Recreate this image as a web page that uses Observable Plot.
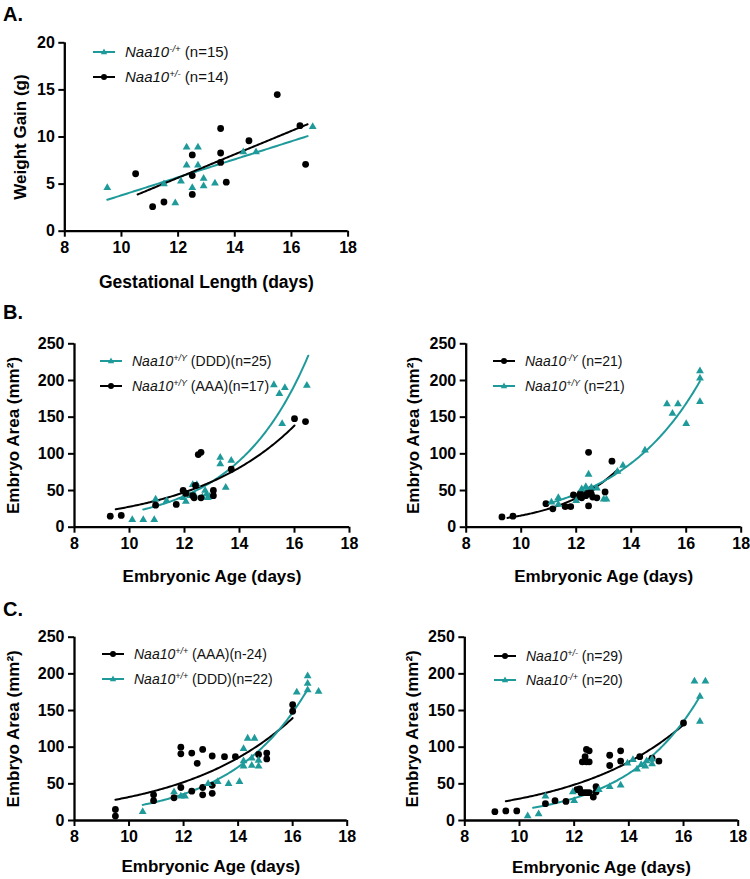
<!DOCTYPE html>
<html>
<head>
<meta charset="utf-8">
<script src="https://cdn.jsdelivr.net/npm/d3@7"></script>
<script src="https://cdn.jsdelivr.net/npm/@observablehq/plot@0.6"></script>
<style>
  html, body { margin: 0; padding: 0; background: #fff; }
  body { font-family: "Liberation Sans", Arial, Helvetica, sans-serif; color: #000; }
  #fig { position: relative; width: 750px; height: 879px; overflow: hidden; background: #fff; }
  .panel { position: absolute; }
  .plabel { position: absolute; font-weight: bold; font-size: 20px; line-height: 20px; }
  .lrow { position: absolute; display: flex; align-items: center; white-space: nowrap; height: 18px; line-height: 18px; color: #111; }
  .lrow svg { flex: none; margin-right: 10px; }
  .lrow i sup, .lrow sup { font-size: 0.64em; line-height: 0; vertical-align: 0.55em; }
</style>
</head>
<body>
<div id="fig"></div>
<script>
// ---------------- data ----------------
const TEAL = "#1f9a9a";
const xTicks = [8, 10, 12, 14, 16, 18];
const yTicksA = [0, 5, 10, 15, 20];
const yTicksArea = [0, 50, 100, 150, 200, 250];

// Panel A: weight gain vs gestational length
const aTealX = [9.5, 11.5, 11.9, 12.1, 12.3, 12.7, 12.3, 12.7, 12.5, 12.9, 12.9, 13.3, 14.3, 14.75, 16.75];
const aTealY = [4.6, 5.0, 3.0, 5.3, 8.9, 8.9, 7.0, 7.0, 4.6, 5.6, 4.8, 5.1, 8.4, 8.4, 11.1];
const aBlackX = [10.5, 11.1, 11.5, 12.5, 12.5, 12.5, 13.5, 13.5, 13.5, 13.7, 14.5, 15.5, 16.3, 16.5];
const aBlackY = [6.1, 2.6, 3.1, 8.1, 5.9, 3.9, 10.9, 8.3, 7.3, 5.2, 9.6, 14.5, 11.2, 7.1];
const aTealFitRange = [9.5, 16.57];
const aBlackFitRange = [10.57, 16.57];

// Panel B left: Naa10+/Y (DDD) vs Naa10+/Y (AAA)
const bLTealX = [10.1, 10.5, 10.9, 10.95, 11.35, 11.95, 12.05, 12.3, 12.45, 12.2, 12.35, 12.65, 12.8, 12.85, 12.75, 12.9, 13.3, 13.3, 13.7, 13.5, 15.25, 15.45, 15.65, 15.55, 16.45];
const bLTealY = [10, 10, 10, 38, 36, 40, 35, 58, 58, 43, 45, 41, 45, 40, 50, 42, 95, 86, 91, 54, 194, 182, 190, 141, 193];
const bLBlackX = [9.3, 9.7, 10.95, 11.7, 11.95, 12.05, 12.3, 12.4, 12.35, 12.6, 12.5, 12.6, 13.05, 13.05, 13.7, 16.0, 16.4];
const bLBlackY = [15, 16, 30, 31, 50, 46, 43, 57, 40, 40, 99, 102, 50, 43, 79, 148, 144];
const bLTealFitRange = [10.5, 16.5];
const bLBlackFitRange = [9.5, 16.0];

// Panel B right: Naa10-/Y vs Naa10+/Y
const bRBlackX = [9.3, 9.7, 10.9, 11.15, 11.6, 11.8, 11.9, 12.05, 12.15, 12.25, 12.4, 12.55, 12.45, 12.45, 12.6, 12.75, 13.05, 13.3, 12.35, 12.55, 12.2];
const bRBlackY = [14, 15, 32, 25, 28, 28, 44, 41, 46, 43, 46, 52, 102, 29, 41, 40, 48, 90, 43, 45, 40];
const bRTealX = [11.1, 11.35, 11.35, 12.0, 12.2, 12.35, 12.45, 12.55, 12.75, 13.0, 13.1, 13.5, 13.7, 14.5, 15.3, 15.5, 15.7, 16.0, 16.5, 16.5, 16.5];
const bRTealY = [34, 40, 31, 36, 52, 55, 72, 54, 53, 38, 38, 76, 84, 105, 168, 155, 168, 141, 213, 203, 171];
const bRBlackFitRange = [9.5, 13.5];
const bRTealFitRange = [11.1, 16.5];

// Panel C left: Naa10+/+ (AAA) vs Naa10+/+ (DDD)
const cLBlackX = [9.5, 9.5, 10.9, 10.9, 11.65, 11.9, 11.9, 11.9, 12.3, 12.3, 12.5, 12.7, 12.7, 12.7, 13.05, 13.05, 13.05, 13.5, 13.9, 14.75, 15.05, 15.05, 16.0, 16.0];
const cLBlackY = [15, 6, 35, 27, 31, 45, 100, 91, 92, 40, 78, 97, 45, 35, 88, 48, 37, 87, 87, 90, 92, 84, 158, 149];
const cLTealX = [10.5, 11.65, 11.9, 12.05, 12.9, 13.25, 13.65, 14.05, 14.2, 14.2, 14.2, 14.35, 14.6, 14.5, 14.5, 14.75, 14.75, 16.15, 16.55, 16.55, 16.55, 16.95];
const cLTealY = [12, 39, 33, 33, 50, 53, 50, 53, 98, 81, 74, 112, 112, 85, 75, 82, 74, 175, 197, 187, 178, 176];
const cLBlackFitRange = [9.5, 16.0];
const cLTealFitRange = [10.5, 16.5];

// Panel C right: Naa10+/- vs Naa10-/+
const cRBlackX = [9.1, 9.5, 9.9, 10.95, 11.3, 11.7, 12.1, 12.2, 12.25, 12.35, 12.45, 12.55, 12.7, 12.8, 12.8, 12.3, 12.45, 12.55, 12.4, 12.45, 12.55, 13.3, 13.3, 13.7, 13.7, 14.4, 14.85, 15.1, 16.0];
const cRBlackY = [12, 13, 13, 23, 27, 26, 42, 43, 38, 38, 38, 38, 32, 46, 39, 80, 80, 80, 87, 97, 95, 89, 75, 95, 81, 87, 85, 81, 133];
const cRTealX = [10.3, 10.7, 10.95, 11.95, 12.0, 12.9, 13.3, 13.7, 13.95, 14.15, 14.3, 14.45, 14.6, 14.65, 14.85, 14.85, 16.4, 16.8, 16.6, 16.6];
const cRTealY = [6, 9, 33, 39, 27, 42, 46, 48, 78, 83, 70, 76, 74, 81, 77, 84, 190, 190, 169, 135];
const cRBlackFitRange = [9.5, 16.0];
const cRTealFitRange = [10.5, 16.6];

// ---------------- fits (computed from the data) ----------------
function linFit(xs, ys) {
  const mx = d3.mean(xs), my = d3.mean(ys);
  let sxy = 0, sxx = 0;
  xs.forEach((x, i) => { sxy += (x - mx) * (ys[i] - my); sxx += (x - mx) * (x - mx); });
  const m = sxy / sxx;
  return x => my + m * (x - mx);
}
function expFit(xs, ys) {
  let best = null;
  for (let b = 0.01; b <= 1.2; b += 0.0005) {
    let num = 0, den = 0;
    xs.forEach((x, i) => { const e = Math.exp(b * x); num += ys[i] * e; den += e * e; });
    const a = num / den;
    let sse = 0;
    xs.forEach((x, i) => { const r = ys[i] - a * Math.exp(b * x); sse += r * r; });
    if (!best || sse < best.sse) best = {a, b, sse};
  }
  return x => best.a * Math.exp(best.b * x);
}
function curve(xs, ys, kind, range) {
  const f = kind === "lin" ? linFit(xs, ys) : expFit(xs, ys);
  const n = 120, [x0, x1] = range;
  return d3.range(n + 1).map(i => { const x = x0 + (x1 - x0) * i / n; return {x, y: f(x)}; });
}
const pts = (xs, ys) => xs.map((x, i) => ({x, y: ys[i]}));

// ---------------- layout / style ----------------
const S = {
  teal: {color: TEAL, symbol: "triangle", r: 2.9},
  black: {color: "#000", symbol: "circle", r: 3.4}
};
const nm = (sup, rest) => `<i>Naa10<sup>${sup}</sup></i> ${rest}`;

const panels = [
  {label: "A.", labelPos: [3, 4],
   left: 0, top: 0, width: 375, height: 300, mL: 64.3, mR: 27.4, mT: 42.3, mB: 69.3,
   yDomain: [0, 20], yTicks: yTicksA,
   xLabel: "Gestational Length (days)", yLabel: "Weight Gain (g)", xDy: 51, yDx: -44, xFs: 17.5,
   series: [
     {style: "teal", x: aTealX, y: aTealY, fit: "lin", range: aTealFitRange},
     {style: "black", x: aBlackX, y: aBlackY, fit: "lin", range: aBlackFitRange}
   ],
   legend: {x: 93, y: 51.7, dy: 25.6, fs: 15, rows: [["teal", nm("-/+", "(n=15)")], ["black", nm("+/-", "(n=14)")]]}
  },
  {label: "B.", labelPos: [3, 302],
   left: 0, top: 300, width: 375, height: 290, mL: 74, mR: 26, mT: 43.3, mB: 63.3,
   yDomain: [0, 250], yTicks: yTicksArea,
   xLabel: "Embryonic Age (days)", yLabel: "Embryo Area (mm²)", xDy: 49.3, yDx: -61.3, xFs: 17,
   series: [
     {style: "teal", x: bLTealX, y: bLTealY, fit: "exp", range: bLTealFitRange},
     {style: "black", x: bLBlackX, y: bLBlackY, fit: "exp", range: bLBlackFitRange}
   ],
   legend: {x: 100, y: 361, dy: 25, fs: 14, rows: [["teal", nm("+/Y", "(DDD)(n=25)")], ["black", nm("+/Y", "(AAA)(n=17)")]]}
  },
  {label: null,
   left: 375, top: 300, width: 375, height: 290, mL: 90.7, mR: 9.3, mT: 43.3, mB: 63.3,
   yDomain: [0, 250], yTicks: yTicksArea,
   xLabel: "Embryonic Age (days)", yLabel: "Embryo Area (mm²)", xDy: 49.3, yDx: -52.4, xFs: 17,
   series: [
     {style: "black", x: bRBlackX, y: bRBlackY, fit: "exp", range: bRBlackFitRange},
     {style: "teal", x: bRTealX, y: bRTealY, fit: "exp", range: bRTealFitRange}
   ],
   legend: {x: 493, y: 361, dy: 25, fs: 14, rows: [["black", nm("-/Y", "(n=21)")], ["teal", nm("+/Y", "(n=21)")]]}
  },
  {label: "C.", labelPos: [3, 599],
   left: 0, top: 590, width: 375, height: 289, mL: 74, mR: 28.3, mT: 46.7, mB: 59,
   yDomain: [0, 250], yTicks: yTicksArea,
   xLabel: "Embryonic Age (days)", yLabel: "Embryo Area (mm²)", xDy: 46.5, yDx: -61.3, xFs: 17,
   series: [
     {style: "black", x: cLBlackX, y: cLBlackY, fit: "exp", range: cLBlackFitRange},
     {style: "teal", x: cLTealX, y: cLTealY, fit: "exp", range: cLTealFitRange}
   ],
   legend: {x: 102, y: 654.3, dy: 24.2, fs: 14, rows: [["black", nm("+/+", "(AAA)(n-24)")], ["teal", nm("+/+", "(DDD)(n=22)")]]}
  },
  {label: null,
   left: 375, top: 590, width: 375, height: 289, mL: 89.3, mR: 12.3, mT: 46.7, mB: 59,
   yDomain: [0, 250], yTicks: yTicksArea,
   xLabel: "Embryonic Age (days)", yLabel: "Embryo Area (mm²)", xDy: 47, yDx: -52, xFs: 17,
   series: [
     {style: "black", x: cRBlackX, y: cRBlackY, fit: "exp", range: cRBlackFitRange},
     {style: "teal", x: cRTealX, y: cRTealY, fit: "exp", range: cRTealFitRange}
   ],
   legend: {x: 494, y: 655.7, dy: 24.2, fs: 14, rows: [["black", nm("+/-", "(n=29)")], ["teal", nm("-/+", "(n=20)")]]}
  }
];

const fig = document.getElementById("fig");

function legendSample(style) {
  const s = S[style];
  const mk = s.symbol === "circle"
    ? `<circle cx="11" cy="5" r="3" fill="${s.color}"/>`
    : `<path d="M11,1.6 L14.2,7.2 L7.8,7.2 Z" fill="${s.color}"/>`;
  return `<svg width="22" height="10" viewBox="0 0 22 10"><line x1="0" y1="5" x2="22" y2="5" stroke="${s.color}" stroke-width="2"/>${mk}</svg>`;
}

for (const p of panels) {
  const marks = [
    Plot.axisX({ticks: xTicks, tickSize: 6, tickPadding: 4, strokeWidth: 2, label: null, tickFormat: d => d, fontSize: 16, fontWeight: "bold"}),
    Plot.axisY({ticks: p.yTicks, tickSize: 6, tickPadding: 4, strokeWidth: 2, label: null, tickFormat: d => d, fontSize: 16, fontWeight: "bold"}),
    Plot.ruleY([p.yDomain[0]], {strokeWidth: 2.3}),
    Plot.ruleX([8], {strokeWidth: 2.3})
  ];
  for (const s of p.series) {
    marks.push(Plot.line(curve(s.x, s.y, s.fit, s.range), {x: "x", y: "y", stroke: S[s.style].color, strokeWidth: 2}));
  }
  for (const s of p.series) {
    const st = S[s.style];
    marks.push(Plot.dot(pts(s.x, s.y), {x: "x", y: "y", symbol: st.symbol, r: st.r, fill: st.color, stroke: "none"}));
  }
  marks.push(Plot.text([p.xLabel], {text: d => d, frameAnchor: "bottom", textAnchor: "middle", dy: p.xDy, lineAnchor: "middle", fontSize: p.xFs, fontWeight: "bold"}));
  marks.push(Plot.text([p.yLabel], {text: d => d, frameAnchor: "left", textAnchor: "middle", dx: p.yDx, rotate: -90, lineAnchor: "middle", fontSize: 17, fontWeight: "bold"}));

  const chart = Plot.plot({
    width: p.width, height: p.height,
    marginLeft: p.mL, marginRight: p.mR, marginTop: p.mT, marginBottom: p.mB,
    x: {domain: [8, 18]},
    y: {domain: p.yDomain},
    style: {fontFamily: "'Liberation Sans', Arial, Helvetica, sans-serif", fontSize: "16px", fontWeight: "bold", color: "#000", background: "transparent", overflow: "visible"},
    marks
  });
  const wrap = document.createElement("div");
  wrap.className = "panel";
  wrap.style.left = p.left + "px";
  wrap.style.top = p.top + "px";
  wrap.appendChild(chart);
  fig.appendChild(wrap);

  if (p.label) {
    const l = document.createElement("div");
    l.className = "plabel";
    l.textContent = p.label;
    l.style.left = p.labelPos[0] + "px";
    l.style.top = p.labelPos[1] + "px";
    fig.appendChild(l);
  }
  p.legend.rows.forEach(([style, html], i) => {
    const r = document.createElement("div");
    r.className = "lrow";
    r.style.left = p.legend.x + "px";
    r.style.top = (p.legend.y + i * p.legend.dy - 9) + "px";
    r.style.fontSize = p.legend.fs + "px";
    r.innerHTML = legendSample(style) + `<span>${html}</span>`;
    fig.appendChild(r);
  });
}
</script>
</body>
</html>
